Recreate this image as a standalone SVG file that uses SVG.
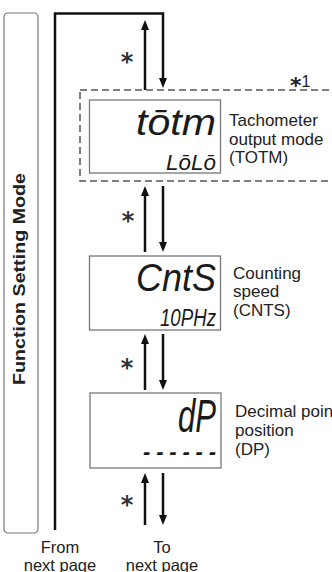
<svg xmlns="http://www.w3.org/2000/svg" width="332" height="572" viewBox="0 0 332 572">
<style>
.lbl{font-family:"Liberation Sans",Arial,sans-serif;font-size:17px;fill:#222}
.foot{font-family:"Liberation Sans",Arial,sans-serif;font-size:16.5px;fill:#222;text-anchor:middle}
.seg{font-family:"Liberation Sans",Arial,sans-serif;font-style:italic;fill:#1a1a1a;text-anchor:end}
.box{fill:#fff;stroke:#777;stroke-width:1.3}
.ast{font-family:"DejaVu Sans",sans-serif;font-size:24px;font-weight:bold;fill:#333;text-anchor:middle}
.ln{fill:none;stroke:#111;stroke-width:2.5}
</style>
<defs>
<marker id="ah" viewBox="0 0 10 8" refX="2" refY="4" markerWidth="10" markerHeight="8" markerUnits="userSpaceOnUse" orient="auto">
<path d="M0,0 L10,4 L0,8 z" fill="#111"/>
</marker>
</defs>
<g id="mode-bar">
<rect x="4" y="13" width="34" height="520" rx="4" fill="none" stroke="#777" stroke-width="1.2"/>
<text transform="translate(25,279) rotate(-90)" text-anchor="middle" textLength="212" lengthAdjust="spacingAndGlyphs" font-family="Liberation Sans, Arial, sans-serif" font-weight="bold" font-size="17" fill="#222">Function Setting Mode</text>
</g>
<g id="connectors">
<path class="ln" d="M55,530 V13.5 H163 V80" marker-end="url(#ah)"/>
<path class="ln" d="M145,90 V28" marker-end="url(#ah)"/>
<path class="ln" d="M145,252 V194" marker-end="url(#ah)"/>
<path class="ln" d="M163,186 V244" marker-end="url(#ah)"/>
<path class="ln" d="M145,390 V342" marker-end="url(#ah)"/>
<path class="ln" d="M163,334 V382" marker-end="url(#ah)"/>
<path class="ln" d="M145,525 V481" marker-end="url(#ah)"/>
<path class="ln" d="M163,473 V517" marker-end="url(#ah)"/>
<text class="ast" x="127" y="70">*</text>
<text class="ast" x="128" y="229">*</text>
<text class="ast" x="127" y="376">*</text>
<text class="ast" x="127" y="513">*</text>
</g>
<g id="totm">
<rect x="80" y="90" width="260" height="91" fill="none" stroke="#555" stroke-width="1.5" stroke-dasharray="7 4"/>
<text x="290" y="87" font-family="Liberation Sans, Arial, sans-serif" fill="#222"><tspan font-family="DejaVu Sans, sans-serif" font-weight="bold" font-size="22" dy="6">*</tspan><tspan font-size="16" dy="-6">1</tspan></text>
<rect class="box" x="89.5" y="100" width="131" height="73"/>
<text class="seg" x="216" y="135" font-size="36" textLength="80" lengthAdjust="spacingAndGlyphs">tōtm</text>
<text class="seg" x="216" y="170" font-size="22" textLength="50" lengthAdjust="spacingAndGlyphs">LōLō</text>
<text class="lbl" x="229" y="126">Tachometer</text>
<text class="lbl" x="229" y="144.5">output mode</text>
<text class="lbl" x="229" y="163">(TOTM)</text>
</g>
<g id="cnts">
<rect class="box" x="89.5" y="256" width="131" height="74"/>
<text class="seg" x="216" y="291" font-size="38" textLength="80" lengthAdjust="spacingAndGlyphs">CntS</text>
<text class="seg" x="216" y="326" font-size="23" textLength="56" lengthAdjust="spacingAndGlyphs">10PHz</text>
<text class="lbl" x="233" y="279">Counting</text>
<text class="lbl" x="233" y="297">speed</text>
<text class="lbl" x="233" y="316">(CNTS)</text>
</g>
<g id="dp">
<rect class="box" x="90" y="393" width="131" height="75"/>
<text class="seg" x="216" y="432" font-size="46" textLength="38" lengthAdjust="spacingAndGlyphs">dP</text>
<text class="seg" x="216" y="459" font-size="22" textLength="73" lengthAdjust="spacing" font-weight="bold">------</text>
<text class="lbl" x="235" y="417">Decimal point</text>
<text class="lbl" x="235" y="436">position</text>
<text class="lbl" x="235" y="455">(DP)</text>
</g>
<g id="footer">
<text class="foot" x="60" y="553">From</text>
<text class="foot" x="60" y="571">next page</text>
<text class="foot" x="162" y="553">To</text>
<text class="foot" x="162" y="571">next page</text>
</g>
</svg>
